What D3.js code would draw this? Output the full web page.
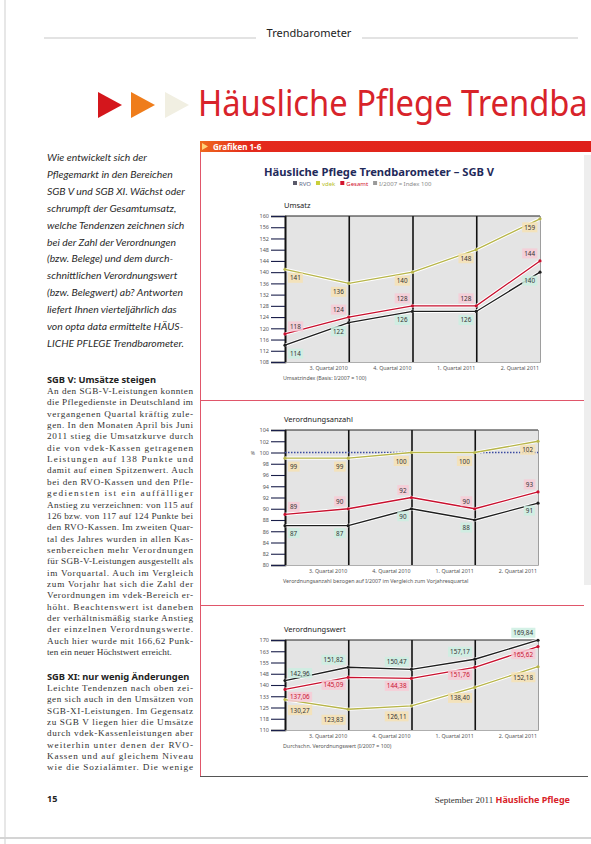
<!DOCTYPE html>
<html><head><meta charset="utf-8">
<script src="https://cdn.jsdelivr.net/npm/d3@7"></script>
<style>
body{margin:0;background:#fff;}
svg{display:block;}
</style></head><body>
<svg id="c" width="591" height="844"></svg>
<script>
// ---------- DATA ----------
const quarters = ["2. Quartal 2010","3. Quartal 2010","4. Quartal 2010","1. Quartal 2011","2. Quartal 2011"];
const seriesNames = ["RVO","vdek","Gesamt"];
const legendExtra = "I/2007 = Index 100";

const umsatzRVO    = [114,122,126,126,140];
const umsatzVdek   = [141,136,140,148,159];
const umsatzGesamt = [118,124,128,128,144];
const umsatzTicks  = [108,112,116,120,124,128,132,136,140,144,148,152,156,160];

const anzahlRVO    = [87,87,90,88,91];
const anzahlVdek   = [99,99,100,100,102];
const anzahlGesamt = [89,90,92,90,93];
const anzahlTicks  = [80,82,84,86,88,90,92,94,96,98,100,102,104];
const anzahlBase   = 100;

const wertRVO    = [142.96,151.82,150.47,157.17,169.84];
const wertVdek   = [130.27,123.83,126.11,138.40,152.18];
const wertGesamt = [137.06,145.09,144.38,151.76,165.62];
const wertTicks  = [110,117.5,125,132.5,140,147.5,155,162.5,170];

const introLines = [
"Wie entwickelt sich der",
"Pflegemarkt in den Bereichen",
"SGB V und SGB XI. Wächst oder",
"schrumpft der Gesamtumsatz,",
"welche Tendenzen zeichnen sich",
"bei der Zahl der Verordnungen",
"(bzw. Belege) und dem durch-",
"schnittlichen Verordnungswert",
"(bzw. Belegwert) ab? Antworten",
"liefert Ihnen vierteljährlich das",
"von opta data ermittelte HÄUS-",
"LICHE PFLEGE Trendbarometer."];

const body1 = [
"An den SGB-V-Leistungen konnten",
"die Pflegedienste in Deutschland im",
"vergangenen Quartal kräftig zule-",
"gen. In den Monaten April bis Juni",
"2011 stieg die Umsatzkurve durch",
"die von vdek-Kassen getragenen",
"Leistungen auf 138 Punkte und",
"damit auf einen Spitzenwert. Auch",
"bei den RVO-Kassen und den Pfle-",
"gediensten ist ein auffälliger",
"Anstieg zu verzeichnen: von 115 auf",
"126 bzw. von 117 auf 124 Punkte bei",
"den RVO-Kassen. Im zweiten Quar-",
"tal des Jahres wurden in allen Kas-",
"senbereichen mehr Verordnungen",
"für SGB-V-Leistungen ausgestellt als",
"im Vorquartal. Auch im Vergleich",
"zum Vorjahr hat sich die Zahl der",
"Verordnungen im vdek-Bereich er-",
"höht. Beachtenswert ist daneben",
"der verhältnismäßig starke Anstieg",
"der einzelnen Verordnungswerte.",
"Auch hier wurde mit 166,62 Punk-",
"ten ein neuer Höchstwert erreicht."];

const body2 = [
"Leichte Tendenzen nach oben zei-",
"gen sich auch in den Umsätzen von",
"SGB-XI-Leistungen. Im Gegensatz",
"zu SGB V liegen hier die Umsätze",
"durch vdek-Kassenleistungen aber",
"weiterhin unter denen der RVO-",
"Kassen und auf gleichem Niveau",
"wie die Sozialämter. Die wenige"];

// ---------- STYLE ----------
const colors = {RVO:"#1e1e1e", vdek:"#b7b54a", Gesamt:"#c8102e"};
const legendColors = {RVO:"#5a5a6a", vdek:"#c9cf3a", Gesamt:"#d2142e"};
const boxColors = {RVO:"#cdeee2", vdek:"#f6e2b4", Gesamt:"#f7cbd6"};
const sans = "'Noto Sans', 'Open Sans', sans-serif";

const svg = d3.select("#c");

// scan edges
svg.append("line").attr("x1",5).attr("x2",5).attr("y1",0).attr("y2",844).attr("stroke","#cfcfcf").attr("stroke-width",1);
svg.append("rect").attr("x",584).attr("y",155).attr("width",7).attr("height",430).attr("fill","#eeeeee");
svg.append("line").attr("x1",0).attr("x2",591).attr("y1",838).attr("y2",838).attr("stroke","#d4d4d4").attr("stroke-width",2);

// top running head
svg.append("line").attr("x1",44).attr("x2",256).attr("y1",38).attr("y2",38).attr("stroke","#c8c8c8").attr("stroke-width",1.2);
svg.append("line").attr("x1",362).attr("x2",578).attr("y1",38).attr("y2",38).attr("stroke","#c8c8c8").attr("stroke-width",1.2);
svg.append("text").attr("x",309).attr("y",37).attr("text-anchor","middle")
  .attr("font-family",sans).attr("font-size",11).attr("fill","#222").text("Trendbarometer");

// triangles
[[98,"#d4161c"],[131,"#ef7d1b"],[165,"#f1efe2"]].forEach(([x,c])=>{
  svg.append("path").attr("d",`M${x},92 L${x+24},105 L${x},118 Z`).attr("fill",c);
});
// big title (as visible on the cropped page), condensed to fit
const titleText = "Häusliche Pflege Trendba";
const tt = svg.append("text").attr("x",0).attr("y",116)
  .attr("font-family",sans).attr("font-size",36).attr("fill","#d8232a").attr("font-weight",400)
  .text(titleText);
const pw = tt.node().getComputedTextLength();
const sx = 390/pw;
tt.attr("transform",`translate(198,0) scale(${sx},1)`);

// intro italic
svg.append("g").selectAll("text").data(introLines).join("text")
  .attr("x",47).attr("y",(d,i)=>161+i*16.9)
  .attr("font-family","Lato, sans-serif").attr("font-style","italic").attr("font-size",10.4)
  .attr("fill","#2a2a2a").text(d=>d);

// body text helper
function para(lines, y0, lastFull){
  svg.append("g").selectAll("text").data(lines).join("text")
    .attr("x",47).attr("y",(d,i)=>y0+i*11.35)
    .attr("font-family","'Liberation Serif', serif").attr("font-size",9.2).attr("fill","#333")
    .each(function(d,i){ if(i<lines.length-1 || lastFull){ d3.select(this).attr("textLength",146).attr("lengthAdjust","spacing"); } })
    .text(d=>d);
}
svg.append("text").attr("x",47).attr("y",383).attr("font-family",sans).attr("font-weight",700)
  .attr("font-size",9.3).attr("fill","#222").text("SGB V: Umsätze steigen");
para(body1, 394, false);
svg.append("text").attr("x",47).attr("y",680).attr("font-family",sans).attr("font-weight",700)
  .attr("font-size",9.3).attr("fill","#222").text("SGB XI: nur wenig Änderungen");
para(body2, 691, true);

svg.append("text").attr("x",47).attr("y",802).attr("font-family",sans).attr("font-weight",700)
  .attr("font-size",9).attr("fill","#222").text("15");

// footer
const ft = svg.append("text").attr("x",570).attr("y",803).attr("text-anchor","end").attr("font-size",9);
ft.append("tspan").attr("font-family","'Liberation Serif', serif").attr("fill","#333").text("September 2011 ");
ft.append("tspan").attr("font-family",sans).attr("font-weight",700).attr("fill","#d8232a").text("Häusliche Pflege");

// right box
const red = "#e0566a";
svg.append("line").attr("x1",200.5).attr("x2",200.5).attr("y1",143).attr("y2",777).attr("stroke",red).attr("stroke-width",1);
svg.append("line").attr("x1",200).attr("x2",584).attr("y1",400.5).attr("y2",400.5).attr("stroke",red).attr("stroke-width",1);
svg.append("line").attr("x1",200).attr("x2",584).attr("y1",605.5).attr("y2",605.5).attr("stroke",red).attr("stroke-width",1);
svg.append("line").attr("x1",200).attr("x2",588).attr("y1",776.5).attr("y2",776.5).attr("stroke","#555").attr("stroke-width",1);

// header bar
const grad = svg.append("defs").append("linearGradient").attr("id","bar").attr("x1","0").attr("x2","1");
grad.append("stop").attr("offset","0").attr("stop-color","#ee6a1e");
grad.append("stop").attr("offset","0.12").attr("stop-color","#e42a1c");
grad.append("stop").attr("offset","1").attr("stop-color","#df1f1a");
svg.append("rect").attr("x",200).attr("y",141).attr("width",391).attr("height",11).attr("fill","url(#bar)");
svg.append("path").attr("d","M202,143 L208,146.5 L202,150 Z").attr("fill","#ffd27a");
svg.append("text").attr("x",213).attr("y",149.5).attr("font-family",sans).attr("font-weight",700)
  .attr("font-size",8).attr("fill","#fff").text("Grafiken 1-6");

// chart header
svg.append("text").attr("x",264).attr("y",176).attr("font-family",sans).attr("font-weight",700)
  .attr("font-size",11.2).attr("fill","#1f2a5a").text("Häusliche Pflege Trendbarometer – SGB V");

// legend
const leg = svg.append("g");
let lx = 293;
[...seriesNames, legendExtra].forEach((n,i)=>{
  const col = i<3 ? legendColors[n] : "#9a9a9a";
  const txtCol = i===0 ? "#5d6a8a" : (i===1 ? "#b6bd2a" : (i===2 ? "#d2142e" : "#8a8a8a"));
  leg.append("rect").attr("x",lx).attr("y",181).attr("width",4).attr("height",4).attr("fill",col);
  const t = leg.append("text").attr("x",lx+6).attr("y",185.5).attr("font-family",sans).attr("font-size",6)
    .attr("fill",txtCol).text(n);
  lx += 6 + t.node().getComputedTextLength() + 5;
});

// ---------- CHARTS ----------
const fmtInt = d3.format("d");
const fmtDec = v => d3.format(".2f")(v).replace(".",",");

function drawChart(cfg){
  const g = svg.append("g");
  const x = d3.scalePoint().domain(quarters).range([cfg.x0,cfg.x1]);
  const y = d3.scaleLinear().domain(cfg.domain).range([cfg.yBot,cfg.yTop]);
  // title
  g.append("text").attr("x",cfg.x0-1).attr("y",cfg.yTop-8).attr("font-family",sans)
    .attr("font-size",7.5).attr("fill","#222").text(cfg.title);
  // background
  g.append("rect").attr("x",cfg.x0).attr("y",cfg.yTop).attr("width",cfg.x1-cfg.x0).attr("height",cfg.yBot-cfg.yTop)
    .attr("fill","#e4e4e4");
  // y axis
  const ya = d3.axisLeft(y).tickValues(cfg.ticks).tickSize(14).tickPadding(2)
    .tickFormat(cfg.tickFmt);
  const yg = g.append("g").attr("transform",`translate(${cfg.x0},0)`).call(ya);
  yg.select(".domain").attr("stroke","#111").attr("stroke-width",1.6);
  yg.selectAll(".tick line").attr("stroke","#1a1f4a").attr("stroke-width",1.1);
  yg.selectAll(".tick text").attr("font-family",sans).attr("font-size",5.5).attr("fill","#555");
  // x axis: vertical lines
  const xa = d3.axisBottom(x).tickSize(-(cfg.yBot-cfg.yTop)).tickFormat("");
  const xg = g.append("g").attr("transform",`translate(0,${cfg.yBot})`).call(xa);
  xg.select(".domain").attr("stroke","#999").attr("stroke-width",0.8);
  xg.selectAll(".tick line").attr("stroke",(d,i)=> i===quarters.length-1 ? "#999" : "#111")
    .attr("stroke-width",(d,i)=> i===quarters.length-1 ? 0.8 : 1.6);
  // top border
  g.append("line").attr("x1",cfg.x0).attr("x2",cfg.x1).attr("y1",cfg.yTop).attr("y2",cfg.yTop)
    .attr("stroke","#222").attr("stroke-width",1);
  // x labels (right aligned at gridlines)
  g.append("g").selectAll("text").data(quarters.slice(1)).join("text")
    .attr("x",d=>x(d)-1).attr("y",cfg.yBot+8).attr("text-anchor","end")
    .attr("font-family",sans).attr("font-size",5.3).attr("fill","#555").text(d=>d);
  // footnote
  g.append("text").attr("x",cfg.x0-2).attr("y",cfg.yBot+18).attr("font-family",sans)
    .attr("font-size",5.3).attr("fill","#555").text(cfg.note);
  // base line
  if(cfg.base!==undefined){
    g.append("line").attr("x1",cfg.x0).attr("x2",cfg.x1).attr("y1",y(cfg.base)).attr("y2",y(cfg.base))
      .attr("stroke","#3a4aa0").attr("stroke-width",1.3).attr("stroke-dasharray","1.5,1.5");
    g.append("text").attr("x",cfg.x0-30).attr("y",y(cfg.base)+2).attr("text-anchor","end").attr("font-family",sans)
      .attr("font-size",5).attr("fill","#555").text("%");
  }
  const line = d3.line().x((d,i)=>x(quarters[i])).y(d=>y(d));
  cfg.series.forEach(s=>{
    g.append("path").datum(s.values).attr("d",line).attr("fill","none").attr("stroke","#fff").attr("stroke-width",3.2);
    g.append("path").datum(s.values).attr("d",line).attr("fill","none").attr("stroke",colors[s.name]).attr("stroke-width",1.3);
  });
  cfg.series.forEach(s=>{
    g.append("g").selectAll("circle").data(s.values).join("circle")
      .attr("cx",(d,i)=>x(quarters[i])).attr("cy",d=>y(d)).attr("r",1.6).attr("fill",colors[s.name]);
  });
  // labels
  cfg.series.forEach(s=>{
    const lg = g.append("g");
    s.values.forEach((v,i)=>{
      const px = x(quarters[i]), py = y(v);
      const lx = i===0 ? px+5 : px-5;
      const anchor = i===0 ? "start" : "end";
      const t = lg.append("text").attr("x",lx).attr("y",py+s.dy).attr("text-anchor",anchor)
        .attr("font-family",sans).attr("font-size",6.3).attr("fill", s.name==="Gesamt" && cfg.redText ? "#c8102e" : "#333")
        .text(cfg.fmt(v));
      const bb = t.node().getBBox();
      lg.insert("rect","text").attr("x",bb.x-2).attr("y",bb.y-0.5).attr("width",bb.width+4).attr("height",bb.height+1)
        .attr("fill",boxColors[s.name]).attr("opacity",0.85);
    });
  });
}

drawChart({title:"Umsatz", x0:285, x1:540, yTop:216, yBot:362, domain:[108,160], ticks:umsatzTicks,
  tickFmt:fmtInt, fmt:v=>fmtInt(Math.round(v)), note:"Umsatzindex (Basis: I/2007 = 100)",
  series:[{name:"vdek",values:umsatzVdek,dy:11},{name:"RVO",values:umsatzRVO,dy:11},{name:"Gesamt",values:umsatzGesamt,dy:-5}]});

drawChart({title:"Verordnungsanzahl", x0:285, x1:538, yTop:430, yBot:565, domain:[80,104], ticks:anzahlTicks,
  tickFmt:fmtInt, fmt:v=>fmtInt(Math.round(v)), base:anzahlBase,
  note:"Verordnungsanzahl bezogen auf I/2007 im Vergleich zum Vorjahresquartal",
  series:[{name:"vdek",values:anzahlVdek,dy:11},{name:"RVO",values:anzahlRVO,dy:10},{name:"Gesamt",values:anzahlGesamt,dy:-5}]});

drawChart({title:"Verordnungswert", x0:285, x1:538, yTop:640, yBot:730, domain:[110,170], ticks:wertTicks,
  tickFmt:v=>fmtInt(Math.round(v)), fmt:fmtDec, redText:true,
  note:"Durchschn. Verordnungswert (I/2007 = 100)",
  series:[{name:"vdek",values:wertVdek,dy:13},{name:"RVO",values:wertRVO,dy:-5},{name:"Gesamt",values:wertGesamt,dy:10}]});
</script>
</body></html>
